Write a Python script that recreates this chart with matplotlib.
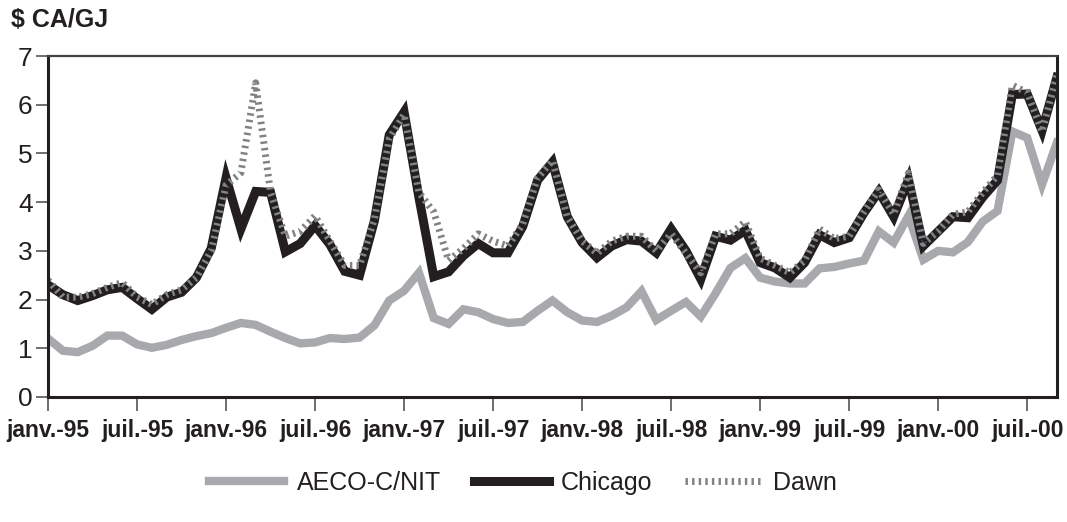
import matplotlib
matplotlib.use("Agg")
import matplotlib.pyplot as plt
import numpy as np

# monthly prices, janv.-95 to sept.-00 ($ CA/GJ)
aeco = [1.20, 0.95, 0.92, 1.05, 1.26, 1.26, 1.08, 1.01, 1.07, 1.17,
        1.25, 1.31, 1.42, 1.52, 1.48, 1.34, 1.21, 1.10, 1.12, 1.21,
        1.19, 1.22, 1.47, 1.98, 2.18, 2.55, 1.62, 1.50, 1.80, 1.74,
        1.60, 1.52, 1.54, 1.77, 1.98, 1.74, 1.57, 1.54, 1.67, 1.84,
        2.17, 1.58, 1.77, 1.95, 1.65, 2.13, 2.65, 2.85, 2.45, 2.37,
        2.33, 2.33, 2.64, 2.67, 2.74, 2.80, 3.40, 3.17, 3.72, 2.82,
        3.00, 2.97, 3.18, 3.60, 3.82, 5.45, 5.32, 4.36, 5.22]
chicago = [2.30, 2.10, 1.98, 2.08, 2.20, 2.25, 2.02, 1.80, 2.05, 2.15,
           2.45, 3.05, 4.50, 3.45, 4.22, 4.20, 2.98, 3.15, 3.52, 3.13,
           2.58, 2.50, 3.62, 5.38, 5.85, 4.10, 2.47, 2.57, 2.90, 3.15,
           2.96, 2.96, 3.50, 4.45, 4.82, 3.70, 3.17, 2.86, 3.10, 3.23,
           3.20, 2.96, 3.45, 3.00, 2.42, 3.30, 3.22, 3.42, 2.76, 2.65,
           2.45, 2.76, 3.33, 3.17, 3.27, 3.78, 4.22, 3.70, 4.46, 3.10,
           3.40, 3.70, 3.68, 4.10, 4.45, 6.21, 6.22, 5.47, 6.56]
dawn = [2.40, 2.05, 2.05, 2.12, 2.25, 2.35, 2.05, 1.90, 2.10, 2.20,
        2.45, 3.00, 4.35, 4.60, 6.45, 4.20, 3.30, 3.40, 3.72, 3.20,
        2.70, 2.70, 3.65, 5.30, 5.80, 4.20, 3.80, 2.80, 3.05, 3.35,
        3.20, 3.10, 3.55, 4.50, 4.85, 3.70, 3.20, 2.95, 3.20, 3.30,
        3.30, 3.00, 3.35, 2.95, 2.55, 3.35, 3.35, 3.60, 2.85, 2.70,
        2.55, 2.80, 3.45, 3.25, 3.30, 3.80, 4.25, 3.75, 4.60, 3.15,
        3.40, 3.75, 3.80, 4.20, 4.55, 6.40, 6.25, 5.45, 6.60]
tick_labels = ["janv.-95", "juil.-95", "janv.-96", "juil.-96", "janv.-97", "juil.-97",
               "janv.-98", "juil.-98", "janv.-99", "juil.-99", "janv.-00", "juil.-00"]

months = np.arange(len(chicago))

plt.rcParams['font.family'] = ['Liberation Sans', 'DejaVu Sans']

fig = plt.figure(figsize=(10.67, 5.22), dpi=100)
ax = fig.add_axes([0.045, 0.2395, 0.9455, 0.6532])

ax.plot(months, aeco, color='#a7a9ac', lw=6, solid_joinstyle='miter', label='AECO-C/NIT')
ax.plot(months, chicago, color='#231f20', lw=6.5, solid_joinstyle='miter', label='Chicago')
ax.plot(months, dawn, color='#808285', lw=5, linestyle=(0, (0.35, 0.6)),
        dash_capstyle='butt', label='Dawn')

ax.set_xlim(0, len(chicago) - 1)
ax.set_ylim(0, 7)
ax.set_xticks(np.arange(0, len(chicago), 6))
ax.set_xticklabels(tick_labels, fontsize=16.5, fontweight='bold', color='#231f20')
ax.set_yticks(range(8))
ax.tick_params(axis='y', labelsize=19, length=9, width=1.2, color='#555555',
               labelcolor='#231f20', pad=2)
ax.tick_params(axis='x', length=10, width=1.2, color='#555555', pad=6)

for side in ['left', 'bottom', 'right']:
    ax.spines[side].set_linewidth(2.2)
    ax.spines[side].set_color('#231f20')
ax.spines['top'].set_linewidth(1.6)
ax.spines['top'].set_color('#444444')

fig.text(0.010, 0.962, "$ CA/GJ", fontsize=18, fontweight='bold', color='#231f20',
         ha='left', va='center')

leg = fig.legend(loc='center', bbox_to_anchor=(0.49, 0.075), ncol=3, frameon=False,
                 fontsize=18, handlelength=3.0, columnspacing=1.3, handletextpad=0.5)
for t in leg.get_texts():
    t.set_color('#231f20')

fig.savefig('out.png', dpi=100)
